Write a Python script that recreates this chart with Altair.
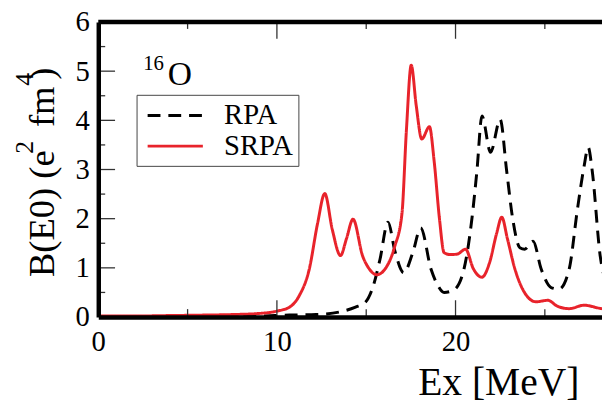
import altair as alt
import pandas as pd

RED = "#e8232b"
XMAX = 28.2
FONT = "'Liberation Serif', 'Times New Roman', Times, serif"

# ---- data ----
srpa_x = [0, 2, 4, 6, 7.5, 8.9, 10.0, 10.7, 11.26, 11.81, 12.28, 12.68, 13.1, 13.56, 13.9,
          14.26, 14.8, 15.13, 15.59, 16.1, 16.6, 17.0, 17.25, 17.52, 17.8, 18.11, 18.54, 18.8,
          19.1, 19.36, 19.7, 20.1, 20.56, 21.0, 21.48, 21.9, 22.3, 22.59, 22.9, 23.33, 23.97,
          24.5, 25.17, 25.7, 26.36, 27.2, 28.2, 28.6]
srpa_y = [0.02, 0.02, 0.03, 0.04, 0.05, 0.07, 0.12, 0.2, 0.44, 0.97, 1.91, 2.51, 1.78, 1.25, 1.6,
          1.99, 1.24, 1.0, 0.86, 1.0, 1.44, 2.1, 3.8, 5.12, 4.3, 3.62, 3.87, 3.18,
          2.0, 1.31, 1.27, 1.28, 1.38, 0.98, 0.81, 1.1, 1.7, 2.03, 1.6, 0.97, 0.44,
          0.31, 0.34, 0.22, 0.17, 0.24, 0.17, 0.16]

rpa_x = [0, 5, 8.9, 10.7, 12.2, 13.47, 14.4, 14.95, 15.4, 15.77, 16.22, 16.6, 17.1, 17.6,
         18.05, 18.63, 19.0, 19.36, 19.9, 20.47, 20.93, 21.2, 21.48, 21.96, 22.5, 22.86, 23.2,
         23.6, 23.88, 24.34, 24.8, 25.35, 25.8, 26.36, 26.82, 27.19, 27.43, 27.65, 28.1, 28.6]
rpa_y = [0.01, 0.01, 0.02, 0.04, 0.05, 0.1, 0.2, 0.3, 0.64, 1.17, 1.93, 1.35, 0.9, 1.3,
         1.81, 0.97, 0.65, 0.5, 0.55, 0.97, 2.04, 2.98, 4.09, 3.35, 4.02, 2.98, 2.0,
         1.41, 1.38, 1.54, 0.97, 0.6, 0.57, 0.97, 2.18, 3.05, 3.45, 2.98, 1.24, 0.6]

series_names = ["RPA", "SRPA"]
x_major = [10, 20]
x_minor = [5, 15, 25]
y_major = [1, 2, 3, 4, 5]
y_minor = [0.5, 1.5, 2.5, 3.5, 4.5, 5.5]
x_labels = [0, 10, 20]
y_labels = [0, 1, 2, 3, 4, 5, 6]

W, H = 510.5, 299

df = pd.concat([
    pd.DataFrame({"Ex": rpa_x, "B": rpa_y, "series": "RPA"}),
    pd.DataFrame({"Ex": srpa_x, "B": srpa_y, "series": "SRPA"}),
])

# wide stroke symbol (56 px long) on a compact legend row
leg = alt.Legend(orient="none", legendX=38.8, legendY=73.8, title=None,
                 symbolType="M-1.93,0H1.93", symbolSize=841, symbolStrokeWidth=3,
                 labelFont=FONT, labelFontSize=29, labelColor="black", labelOffset=33.5,
                 padding=5, rowPadding=-5.4, strokeColor="#444", symbolOffset=18.2)

axis_common = dict(ticks=False, title=None, grid=False, domainColor="black",
                   domainWidth=4.5, labelFont=FONT, labelFontSize=29, labelColor="black",
                   zindex=1)

lines = alt.Chart(df).mark_line(strokeWidth=3, interpolate="monotone", clip=True).encode(
    x=alt.X("Ex:Q", scale=alt.Scale(domain=[0, XMAX], nice=False, zero=False),
            axis=alt.Axis(values=x_labels, labelFlush=False, labelOverlap=False,
                          labelPadding=11, **axis_common)),
    y=alt.Y("B:Q", scale=alt.Scale(domain=[0, 6], nice=False),
            axis=alt.Axis(values=y_labels, labelFlush=False, labelOverlap=False,
                          labelPadding=9, **axis_common)),
    color=alt.Color("series:N", scale=alt.Scale(domain=series_names, range=["black", RED]),
                    legend=leg),
    strokeDash=alt.StrokeDash("series:N",
                              scale=alt.Scale(domain=series_names, range=[[13, 8], [1, 0]]),
                              legend=leg),
)

tick_style = dict(color="#333", strokeWidth=1.3)


def xticks(vals, y0, y1):
    return alt.Chart(pd.DataFrame({"v": vals})).mark_rule(**tick_style).encode(
        x="v:Q", y=alt.value(y0), y2=alt.value(y1))


def yticks(vals, x1):
    return alt.Chart(pd.DataFrame({"v": vals})).mark_rule(**tick_style).encode(
        y="v:Q", x=alt.value(0), x2=alt.value(x1))


ticks = [
    xticks(x_major, H, H - 17), xticks(x_minor, H, H - 8),
    xticks(x_major, 0, 17), xticks(x_minor, 0, 7),
    yticks(y_major, 17), yticks(y_minor, 7),
]

frame = alt.Chart(pd.DataFrame({"a": [0], "b": [XMAX], "y": [6]})).mark_rule(
    color="black", strokeWidth=4.5).encode(x="a:Q", x2="b:Q", y="y:Q")

# text pieces: (text, x, y, size, angle, align)
texts = [
    ("Ex [MeV]", 487.5, 378.5, 40, 0, "right"),
    ("16", 45.5, 48.5, 21, 0, "left"),
    ("O", 70.5, 64.0, 34, 0, "left"),
    ("B(E0) (e", -44.5, 258.5, 37, 270, "left"),
    ("2", -66.5, 133.5, 26, 270, "left"),
    ("fm", -44.5, 106.5, 37, 270, "left"),
    ("4", -66.5, 64.5, 26, 270, "left"),
    (")", -44.5, 58.5, 37, 270, "left"),
]
text_layers = []
for t, x, y, s, a, al in texts:
    text_layers.append(
        alt.Chart(pd.DataFrame({"t": [t]})).mark_text(
            font=FONT, fontSize=s, angle=a, align=al, baseline="alphabetic", color="black"
        ).encode(text="t:N", x=alt.value(x), y=alt.value(y))
    )

chart = alt.layer(lines, *ticks, frame, *text_layers).properties(
    width=W, height=H,
    autosize=alt.AutoSizeParams(type="none"),
    padding={"left": 91.5, "top": 11.5, "right": 0, "bottom": 88},
).configure_view(stroke=None)

chart.save("out.html", embed_options={"renderer": "svg", "actions": False})
